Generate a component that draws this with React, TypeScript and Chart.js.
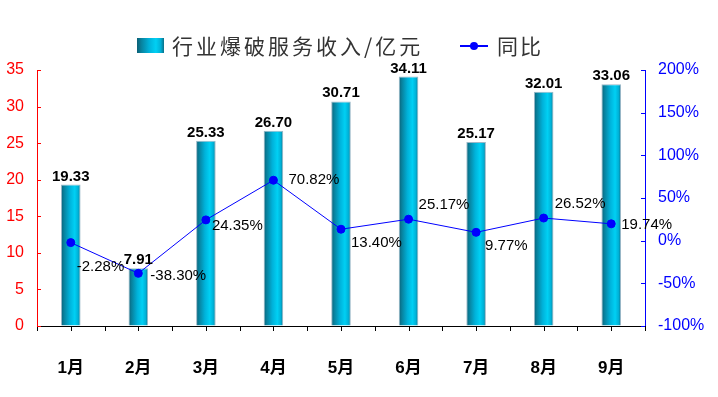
import React, { useEffect, useRef } from "react";
import { Chart, registerables } from "chart.js";

Chart.register(...registerables);

const categories = ["1月", "2月", "3月", "4月", "5月", "6月", "7月", "8月", "9月"];
const revenue = [19.33, 7.91, 25.33, 26.7, 30.71, 34.11, 25.17, 32.01, 33.06];
const yoy = [-2.28, -38.3, 24.35, 70.82, 13.4, 25.17, 9.77, 26.52, 19.74];
const barLabel = "行业爆破服务收入/亿元";
const lineLabel = "同比";

// label offsets (style only)
const yoyLabelDx = [6, 12, 6, 15, 10, 10, 9, 11, 10];
const yoyLabelDy = [24, 3, 6, 0, 14, -14, 14, -14, 1];

const LATIN = "'Liberation Sans', Arial, 'Noto Sans CJK SC', sans-serif";

function barGradient(ctx: CanvasRenderingContext2D, x0: number, x1: number) {
  const g = ctx.createLinearGradient(x0, 0, x1, 0);
  g.addColorStop(0, "#0b5f75");
  g.addColorStop(0.15, "#08809c");
  g.addColorStop(0.45, "#00b2da");
  g.addColorStop(0.7, "#00d0f4");
  g.addColorStop(0.88, "#00b0d6");
  g.addColorStop(1, "#0a7088");
  return g;
}

const gradientPlugin = {
  id: "barGradient",
  beforeDatasetsDraw(chart: any) {
    const meta = chart.getDatasetMeta(0);
    const ctx = chart.ctx;
    meta.data.forEach((el: any) => {
      const x0 = el.x - el.width / 2;
      const x1 = el.x + el.width / 2;
      el.options = Object.assign({}, el.options, { backgroundColor: barGradient(ctx, x0, x1) });
    });
  },
};

const ticksPlugin = {
  id: "customTicks",
  afterDraw(chart: any) {
    const ctx = chart.ctx;
    const { left, right, bottom } = chart.chartArea;
    ctx.save();
    ctx.lineWidth = 1;
    ctx.strokeStyle = "#000";
    const n = categories.length * 2;
    for (let i = 0; i <= n; i++) {
      const x = Math.round(left + ((right - left) * i) / n) + 0.5;
      ctx.beginPath();
      ctx.moveTo(x, bottom);
      ctx.lineTo(x, bottom + 5);
      ctx.stroke();
    }
    const yl = chart.scales.y;
    ctx.strokeStyle = "#ff0000";
    yl.ticks.forEach((t: any) => {
      const y = Math.round(yl.getPixelForValue(t.value)) + 0.5;
      ctx.beginPath();
      ctx.moveTo(left, y);
      ctx.lineTo(left + 4, y);
      ctx.stroke();
    });
    const yr = chart.scales.y1;
    ctx.strokeStyle = "#0000ff";
    yr.ticks.forEach((t: any) => {
      const y = Math.round(yr.getPixelForValue(t.value)) + 0.5;
      ctx.beginPath();
      ctx.moveTo(right, y);
      ctx.lineTo(right - 4, y);
      ctx.stroke();
    });
    ctx.restore();
  },
};

const labelsPlugin = {
  id: "valueLabels",
  afterDatasetsDraw(chart: any) {
    const ctx = chart.ctx;
    ctx.save();
    ctx.fillStyle = "#000";
    ctx.font = `bold 15px ${LATIN}`;
    ctx.textAlign = "center";
    ctx.textBaseline = "alphabetic";
    chart.getDatasetMeta(0).data.forEach((el: any, i: number) => {
      ctx.fillText(revenue[i].toFixed(2), el.x, el.y - 4);
    });
    ctx.font = `15px ${LATIN}`;
    ctx.textAlign = "left";
    ctx.textBaseline = "middle";
    chart.getDatasetMeta(1).data.forEach((el: any, i: number) => {
      ctx.fillText(yoy[i].toFixed(2) + "%", el.x + yoyLabelDx[i], el.y + yoyLabelDy[i]);
    });
    ctx.restore();
  },
};

const legendPlugin = {
  id: "customLegend",
  afterDraw(chart: any) {
    const ctx = chart.ctx;
    ctx.save();
    const bx = 137, by = 38, bw = 27, bh = 15, cy = 46;
    ctx.fillStyle = barGradient(ctx, bx, bx + bw);
    ctx.fillRect(bx, by, bw, bh);
    ctx.font = "21px 'Noto Sans CJK SC', sans-serif";
    (ctx as any).letterSpacing = "3px";
    ctx.fillStyle = "#333";
    ctx.textAlign = "left";
    ctx.textBaseline = "middle";
    ctx.fillText(barLabel, 172, cy);
    ctx.strokeStyle = "#0000ff";
    ctx.lineWidth = 2;
    ctx.beginPath();
    ctx.moveTo(460, cy);
    ctx.lineTo(488, cy);
    ctx.stroke();
    ctx.fillStyle = "#0000ff";
    ctx.beginPath();
    ctx.arc(474, cy, 4, 0, Math.PI * 2);
    ctx.fill();
    ctx.fillStyle = "#333";
    (ctx as any).letterSpacing = "2px";
    ctx.fillText(lineLabel, 497, cy);
    ctx.restore();
  },
};

export default function App() {
  const ref = useRef<HTMLCanvasElement>(null);
  useEffect(() => {
    document.body.style.margin = "0";
    const canvas = ref.current!;
    const chart = new Chart(canvas, {
      type: "bar",
      data: {
        labels: categories,
        datasets: [
          {
            type: "bar",
            label: barLabel,
            data: revenue,
            yAxisID: "y",
            backgroundColor: "#00b2da",
            borderColor: "#9ab8c8",
            borderWidth: 1,
            categoryPercentage: 1,
            barPercentage: 0.29,
            order: 2,
          },
          {
            type: "line",
            label: lineLabel,
            data: yoy,
            yAxisID: "y1",
            borderColor: "#0000ff",
            borderWidth: 1,
            backgroundColor: "#0000ff",
            pointBackgroundColor: "#0000ff",
            pointBorderColor: "#0000ff",
            pointRadius: 4,
            tension: 0,
            order: 1,
          },
        ] as any,
      },
      options: {
        responsive: false,
        animation: false,
        layout: { padding: { top: 70, left: 0, right: 0, bottom: 0 } },
        plugins: { legend: { display: false }, tooltip: { enabled: false } },
        scales: {
          x: {
            offset: true,
            grid: { display: false },
            border: { display: true, color: "#000", width: 1 },
            ticks: { color: "#000", font: { family: LATIN, size: 17, weight: "bold" }, padding: 24 },
            afterFit(scale: any) { scale.height = 71; },
          },
          y: {
            position: "left",
            min: 0,
            max: 35,
            ticks: { stepSize: 5, color: "#ff0000", font: { family: LATIN, size: 16 }, padding: 13 },
            grid: { display: true, drawOnChartArea: false, drawTicks: false },
            border: { display: true, color: "#ff0000", width: 1 },
            afterFit(scale: any) { scale.width = 37; },
          },
          y1: {
            position: "right",
            min: -100,
            max: 200,
            ticks: {
              stepSize: 50,
              color: "#0000ff",
              font: { family: LATIN, size: 16 },
              padding: 13,
              callback: (v: any) => v + "%",
            },
            grid: { display: true, drawOnChartArea: false, drawTicks: false },
            border: { display: true, color: "#0000ff", width: 1 },
            afterFit(scale: any) { scale.width = 73; },
          },
        },
      } as any,
      plugins: [gradientPlugin, ticksPlugin, labelsPlugin, legendPlugin],
    });
    return () => chart.destroy();
  }, []);
  return (
    <div style={{ width: 718, height: 397, background: "#fff" }}>
      <canvas ref={ref} width={718} height={397} />
    </div>
  );
}
